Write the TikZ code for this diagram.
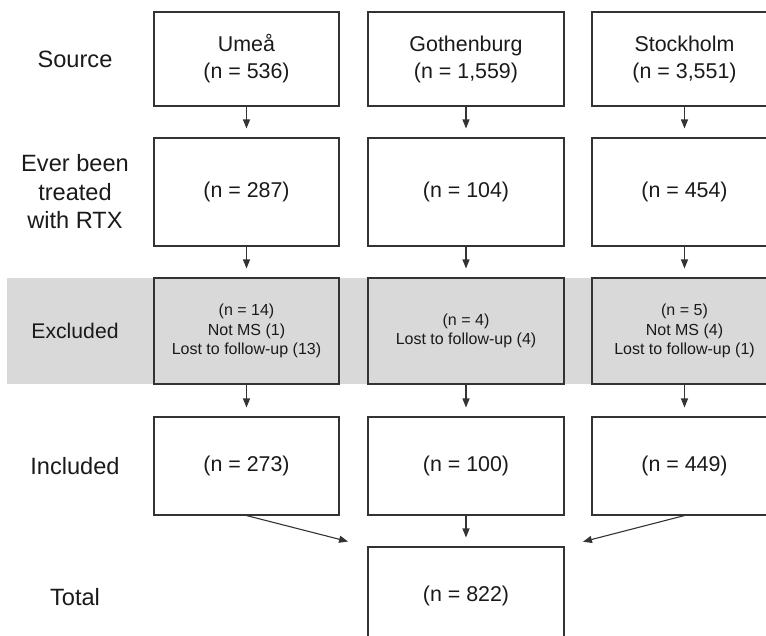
\documentclass[tikz,border=0pt]{standalone}
\usepackage{fontspec}
\setmainfont{Liberation Sans}
\usetikzlibrary{arrows.meta}
\definecolor{linec}{HTML}{333333}
\definecolor{txt}{HTML}{1A1A1A}
\definecolor{band}{HTML}{D9D9D9}
\begin{document}
\begin{tikzpicture}[x=1pt,y=-1pt,
  box/.style={draw=linec, line width=1.1pt, minimum width=185pt, inner sep=0pt,
    align=center, text=txt, font=\fontsize{21.4}{27}\selectfont},
  widebox/.style={box, minimum width=196pt},
  exbox/.style={fill=band, font=\fontsize{16}{19.5}\selectfont},
  lab/.style={align=center, text=txt, inner sep=0pt, font=\fontsize{23.6}{28.5}\selectfont},
  arr/.style={draw=linec, line width=1.1pt, -{Triangle[length=9pt,width=7pt]}, shorten >=9pt}
]
\useasboundingbox (0,0) rectangle (766,635);
\clip (0,0) rectangle (766,635);
% grey band
\fill[band] (7,278) rectangle (790,384);
% labels
\node[lab] (l1) at (75,59) {Source};
\node[lab] (l2) at (75,192) {Ever been\\treated\\with RTX};
\node[lab, font=\fontsize{21.2}{26}\selectfont] (l3) at (75,331) {Excluded};
\node[lab] (l4) at (75,466) {Included};
\node[lab] (l5) at (75,597) {Total};
% row 1
\node[box, minimum height=94pt] (s1) at (246.5,59) {Umeå\\(n = 536)};
\node[widebox, minimum height=94pt] (s2) at (466,59) {Gothenburg\\(n = 1,559)};
\node[box, minimum height=94pt] (s3) at (684.5,59) {Stockholm\\(n = 3,551)};
% row 2
\node[box, minimum height=108pt] (t1) at (246.5,192) {(n = 287)};
\node[widebox, minimum height=108pt] (t2) at (466,192) {(n = 104)};
\node[box, minimum height=108pt] (t3) at (684.5,192) {(n = 454)};
% row 3
\node[box, exbox, minimum height=106pt] (e1) at (246.5,331) {(n = 14)\\Not MS (1)\\Lost to follow-up (13)};
\node[widebox, exbox, minimum height=106pt] (e2) at (466,331) {(n = 4)\\Lost to follow-up (4)};
\node[box, exbox, minimum height=106pt] (e3) at (684.5,331) {(n = 5)\\Not MS (4)\\Lost to follow-up (1)};
% row 4
\node[box, minimum height=98pt] (i1) at (246.5,466) {(n = 273)};
\node[widebox, minimum height=98pt] (i2) at (466,466) {(n = 100)};
\node[box, minimum height=98pt] (i3) at (684.5,466) {(n = 449)};
% total
\node[widebox, minimum height=98pt] (tot) at (466,596) {(n = 822)};
% arrows
\foreach \a/\b in {s1/t1,s2/t2,s3/t3,t1/e1,t2/e2,t3/e3,e1/i1,e2/i2,e3/i3,i2/tot}
  \draw[arr] (\a) -- (\b);
\draw[arr, shorten >=20pt] (i1.south) -- (tot.north west);
\draw[arr, shorten >=19pt] (i3.south) -- (tot.north east);
\end{tikzpicture}
\end{document}
